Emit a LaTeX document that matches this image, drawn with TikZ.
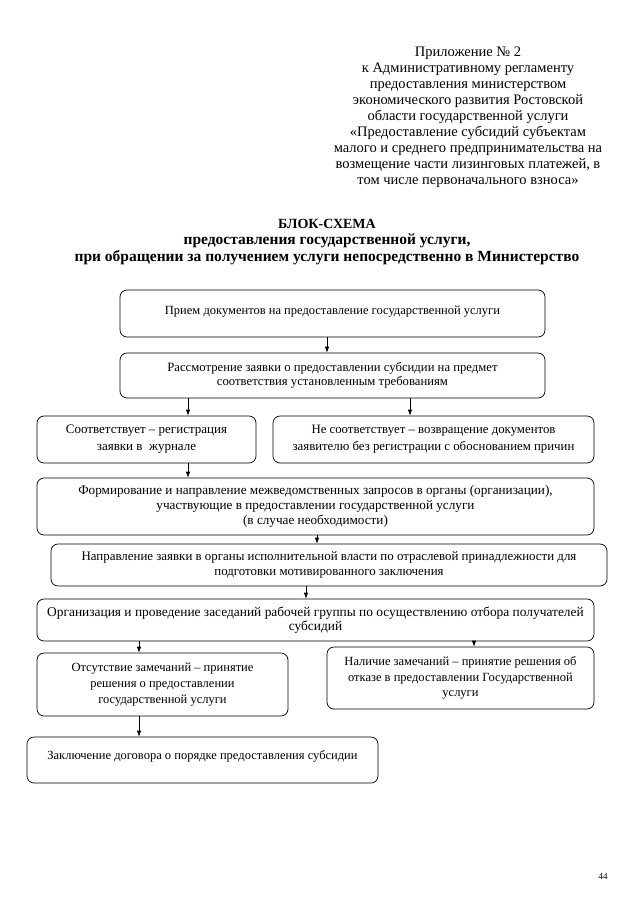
\documentclass[tikz,border=0pt]{standalone}
\usepackage{fontspec}
\setmainfont{Liberation Serif}
\usetikzlibrary{arrows.meta}
\newcommand{\fs}[2]{\fontsize{#1}{#2}\selectfont}
\begin{document}
\begin{tikzpicture}[x=1pt,y=-1pt,
  box/.style={draw, rounded corners=7pt, line width=0.7pt, align=center,
    inner sep=0pt, font=\fs{12.5}{14.5}},
  arr/.style={-{Latex[length=6pt,width=4.5pt]}, line width=0.7pt},
  hdr/.style={align=center, inner sep=0pt, font=\fs{14.5}{16}},
  ttl/.style={align=center, inner sep=0pt, font=\fs{15.5}{16.5}\bfseries}]
\useasboundingbox (0,0) rectangle (640,905);

\node[hdr, anchor=north] (head) at (468,47) {Приложение № 2\\
к Административному регламенту\\
предоставления министерством\\
экономического развития Ростовской\\
области государственной услуги\\
«Предоставление субсидий субъектам\\
малого и среднего предпринимательства на\\
возмещение части лизинговых платежей, в\\
том числе первоначального взноса»};

\node[ttl, anchor=north] (title) at (327,219) {{\fs{14}{16.5}\bfseries БЛОК-СХЕМА}\\
предоставления государственной услуги,\\
при обращении за получением услуги непосредственно в Министерство};

\node[box, minimum width=425, minimum height=47] (b1) at (332.5,313.5)
  {Прием документов на предоставление государственной услуги\\[-12pt] \strut};
\node[box, font=\fs{12.7}{14.5}, minimum width=425, minimum height=45] (b2) at (332.5,375.5)
  {Рассмотрение заявки о предоставлении субсидии на предмет\\
   соответствия установленным требованиям};
\node[box, font=\fs{13}{14.5}, minimum width=219, minimum height=47] (b3) at (146.5,439.5)
  {Соответствует – регистрация\\[2.5pt] заявки в\ \ журнале};
\node[box, font=\fs{12.8}{14.5}, minimum width=321, minimum height=47] (b4) at (433.5,439.5)
  {Не соответствует – возвращение документов\\[2.5pt]
   заявителю без регистрации с обоснованием причин};
\node[box, font=\fs{13.2}{15}, minimum width=557, minimum height=57] (b5) at (315.5,506.5)
  {Формирование и направление межведомственных запросов в органы (организации),\\
   участвующие в предоставлении государственной услуги\\
   (в случае необходимости)};
\node[box, font=\fs{12.9}{15}, minimum width=556, minimum height=42] (b6) at (329,565)
  {Направление заявки в органы исполнительной власти по отраслевой принадлежности для\\
   подготовки мотивированного заключения};
\node[box, font=\fs{13.4}{14.5}, minimum width=557, minimum height=42] (b7) at (315.5,620)
  {Организация и проведение заседаний рабочей группы по осуществлению отбора получателей\\
   субсидий};
\node[box, minimum width=251, minimum height=63] (b8) at (162.5,684.5)
  {Отсутствие замечаний – принятие\\[1.5pt]
   решения о предоставлении\\[1.5pt]
   государственной услуги};
\node[box, minimum width=267, minimum height=62] (b9) at (460.5,678)
  {Наличие замечаний – принятие решения об\\[1pt]
   отказе в предоставлении Государственной\\[1pt]
   услуги};
\node[box, minimum width=351, minimum height=46] (b10) at (202.5,760)
  {Заключение договора о порядке предоставления субсидии\\[-8pt] \strut};

\draw[arr] (327,0 |- b1.south) -- (327,0 |- b2.north);
\draw[arr] (188,0 |- b2.south) -- (188,0 |- b3.north);
\draw[arr] (410,0 |- b2.south) -- (410,0 |- b4.north);
\draw[arr] (188,0 |- b3.south) -- (188,0 |- b5.north);
\draw[arr] (317,0 |- b5.south) -- (317,0 |- b6.north);
\draw[arr] (306,0 |- b6.south) -- (306,0 |- b7.north);
\draw[arr] (139,0 |- b7.south) -- (139,0 |- b8.north);
\draw[arr] (474,0 |- b7.south) -- (474,0 |- b9.north);
\draw[arr] (139,0 |- b8.south) -- (139,0 |- b10.north);

\node[font=\fs{9}{10}, inner sep=0pt] (pnum) at (603,877) {44};
\end{tikzpicture}
\end{document}
